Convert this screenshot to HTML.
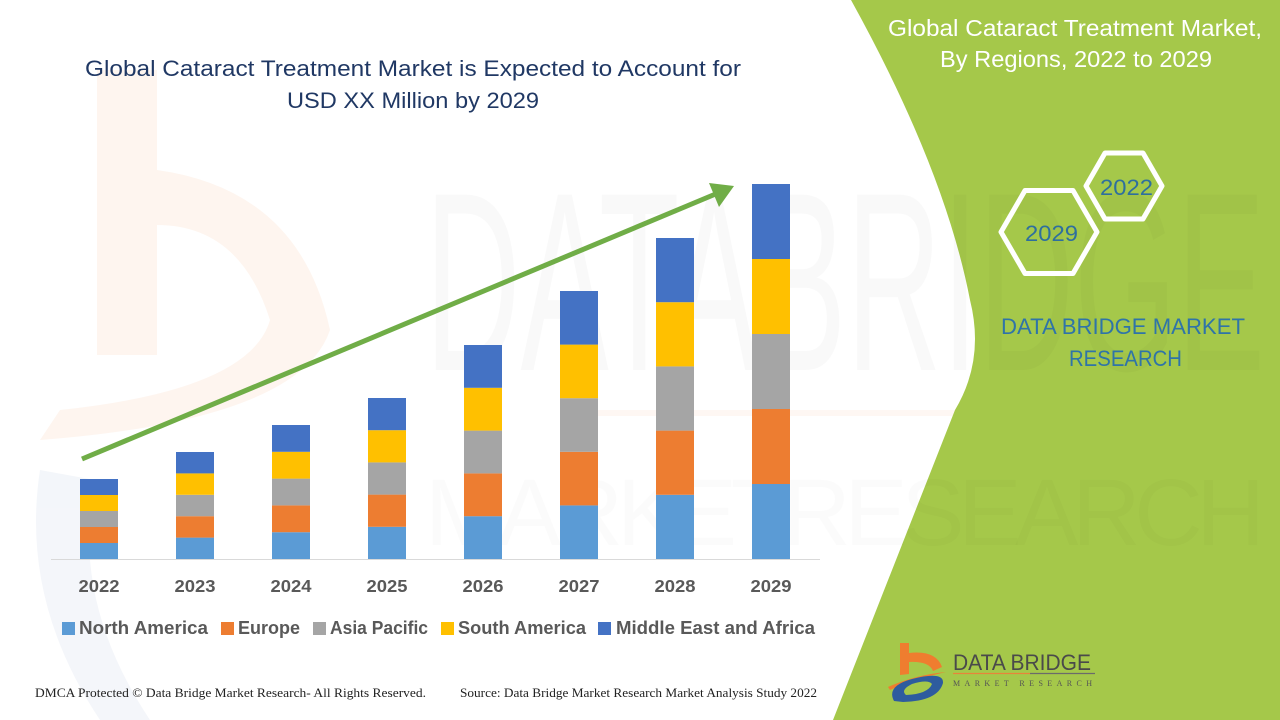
<!DOCTYPE html>
<html><head><meta charset="utf-8"><style>
html,body{margin:0;padding:0;background:#fff;}
svg{display:block;}
</style></head><body>
<svg width="1280" height="720" viewBox="0 0 1280 720" xmlns="http://www.w3.org/2000/svg">
<rect width="1280" height="720" fill="#ffffff"/>
<!-- faint left logo watermark -->
<g opacity="0.45">
<rect x="97" y="70" width="60" height="285" fill="#fde9dc"/>
<path d="M157,170 Q300,190 330,330 Q300,420 40,440 L60,410 Q250,390 270,320 Q240,225 157,225 Z" fill="#fde9dc"/>
<path d="M40,470 Q20,600 100,720 L150,720 Q70,600 95,480 Z" fill="#e6ecf4"/>
<path d="M580,410 L1000,410 L1000,416 L580,416 Z" fill="#fdeee4"/>
</g>
<!-- green panel -->
<path d="M851,0 Q945,170 970,300 Q985,360 955,410 L833,720 L1280,720 L1280,0 Z" fill="#a5c84a"/>
<!-- watermark text -->
<text x="425" y="370" font-family="Liberation Sans, sans-serif" font-size="255" textLength="840" lengthAdjust="spacingAndGlyphs" fill="#000" fill-opacity="0.022">DATABRIDGE</text>
<text x="425" y="545" font-family="Liberation Sans, sans-serif" font-size="95" textLength="840" lengthAdjust="spacing" fill="#000" fill-opacity="0.015">MARKETRESEARCH</text>

<!-- title -->
<text x="85" y="76" font-family="Liberation Sans, sans-serif" font-size="22" fill="#203864" textLength="656" lengthAdjust="spacingAndGlyphs">Global Cataract Treatment Market is Expected to Account for</text>
<text x="287" y="108" font-family="Liberation Sans, sans-serif" font-size="22" fill="#203864" textLength="252" lengthAdjust="spacingAndGlyphs">USD XX Million by 2029</text>

<!-- axis -->
<line x1="51" y1="559.5" x2="820" y2="559.5" stroke="#d9d9d9" stroke-width="1"/>

<!-- bars -->
<g>
<rect x="80" y="543" width="38" height="16" fill="#5b9bd5"/>
<rect x="80" y="527" width="38" height="16" fill="#ed7d31"/>
<rect x="80" y="511" width="38" height="16" fill="#a5a5a5"/>
<rect x="80" y="495" width="38" height="16" fill="#ffc000"/>
<rect x="80" y="479" width="38" height="16" fill="#4472c4"/>
<rect x="176" y="537.6" width="38" height="21.4" fill="#5b9bd5"/>
<rect x="176" y="516.2" width="38" height="21.4" fill="#ed7d31"/>
<rect x="176" y="494.8" width="38" height="21.4" fill="#a5a5a5"/>
<rect x="176" y="473.4" width="38" height="21.4" fill="#ffc000"/>
<rect x="176" y="452" width="38" height="21.4" fill="#4472c4"/>
<rect x="272" y="532.2" width="38" height="26.8" fill="#5b9bd5"/>
<rect x="272" y="505.4" width="38" height="26.8" fill="#ed7d31"/>
<rect x="272" y="478.6" width="38" height="26.8" fill="#a5a5a5"/>
<rect x="272" y="451.8" width="38" height="26.8" fill="#ffc000"/>
<rect x="272" y="425" width="38" height="26.8" fill="#4472c4"/>
<rect x="368" y="526.8" width="38" height="32.2" fill="#5b9bd5"/>
<rect x="368" y="494.6" width="38" height="32.2" fill="#ed7d31"/>
<rect x="368" y="462.4" width="38" height="32.2" fill="#a5a5a5"/>
<rect x="368" y="430.2" width="38" height="32.2" fill="#ffc000"/>
<rect x="368" y="398" width="38" height="32.2" fill="#4472c4"/>
<rect x="464" y="516.2" width="38" height="42.8" fill="#5b9bd5"/>
<rect x="464" y="473.4" width="38" height="42.8" fill="#ed7d31"/>
<rect x="464" y="430.6" width="38" height="42.8" fill="#a5a5a5"/>
<rect x="464" y="387.8" width="38" height="42.8" fill="#ffc000"/>
<rect x="464" y="345" width="38" height="42.8" fill="#4472c4"/>
<rect x="560" y="505.4" width="38" height="53.6" fill="#5b9bd5"/>
<rect x="560" y="451.8" width="38" height="53.6" fill="#ed7d31"/>
<rect x="560" y="398.2" width="38" height="53.6" fill="#a5a5a5"/>
<rect x="560" y="344.6" width="38" height="53.6" fill="#ffc000"/>
<rect x="560" y="291" width="38" height="53.6" fill="#4472c4"/>
<rect x="656" y="494.8" width="38" height="64.2" fill="#5b9bd5"/>
<rect x="656" y="430.6" width="38" height="64.2" fill="#ed7d31"/>
<rect x="656" y="366.4" width="38" height="64.2" fill="#a5a5a5"/>
<rect x="656" y="302.2" width="38" height="64.2" fill="#ffc000"/>
<rect x="656" y="238" width="38" height="64.2" fill="#4472c4"/>
<rect x="752" y="484" width="38" height="75" fill="#5b9bd5"/>
<rect x="752" y="409" width="38" height="75" fill="#ed7d31"/>
<rect x="752" y="334" width="38" height="75" fill="#a5a5a5"/>
<rect x="752" y="259" width="38" height="75" fill="#ffc000"/>
<rect x="752" y="184" width="38" height="75" fill="#4472c4"/>
</g>

<!-- arrow -->
<line x1="82" y1="459" x2="718" y2="193" stroke="#70ad47" stroke-width="5"/>
<polygon points="734,186 709,183 719,207" fill="#70ad47"/>

<!-- year labels -->
<g font-family="Liberation Sans, sans-serif" font-size="17.5" font-weight="bold" fill="#595959" text-anchor="middle">
<text x="99" y="592" textLength="41" lengthAdjust="spacingAndGlyphs">2022</text>
<text x="195" y="592" textLength="41" lengthAdjust="spacingAndGlyphs">2023</text>
<text x="291" y="592" textLength="41" lengthAdjust="spacingAndGlyphs">2024</text>
<text x="387" y="592" textLength="41" lengthAdjust="spacingAndGlyphs">2025</text>
<text x="483" y="592" textLength="41" lengthAdjust="spacingAndGlyphs">2026</text>
<text x="579" y="592" textLength="41" lengthAdjust="spacingAndGlyphs">2027</text>
<text x="675" y="592" textLength="41" lengthAdjust="spacingAndGlyphs">2028</text>
<text x="771" y="592" textLength="41" lengthAdjust="spacingAndGlyphs">2029</text>
</g>

<!-- legend -->
<g font-family="Liberation Sans, sans-serif" font-size="18" font-weight="bold" fill="#595959">
<rect x="62" y="622" width="13" height="13" fill="#5b9bd5"/>
<text x="79" y="634" textLength="129" lengthAdjust="spacingAndGlyphs">North America</text>
<rect x="221" y="622" width="13" height="13" fill="#ed7d31"/>
<text x="238" y="634" textLength="62" lengthAdjust="spacingAndGlyphs">Europe</text>
<rect x="313" y="622" width="13" height="13" fill="#a5a5a5"/>
<text x="330" y="634" textLength="98" lengthAdjust="spacingAndGlyphs">Asia Pacific</text>
<rect x="441" y="622" width="13" height="13" fill="#ffc000"/>
<text x="458" y="634" textLength="128" lengthAdjust="spacingAndGlyphs">South America</text>
<rect x="598" y="622" width="13" height="13" fill="#4472c4"/>
<text x="616" y="634" textLength="199" lengthAdjust="spacingAndGlyphs">Middle East and Africa</text>
</g>

<!-- footer -->
<g font-family="Liberation Serif, serif" font-size="12.5" fill="#222">
<text x="35" y="697" textLength="391" lengthAdjust="spacingAndGlyphs">DMCA Protected © Data Bridge Market Research- All Rights Reserved.</text>
<text x="460" y="697" textLength="357" lengthAdjust="spacingAndGlyphs">Source: Data Bridge Market Research Market Analysis Study 2022</text>
</g>

<!-- right panel title -->
<g font-family="Liberation Sans, sans-serif" font-size="23" fill="#ffffff">
<text x="888" y="36" textLength="374" lengthAdjust="spacingAndGlyphs">Global Cataract Treatment Market,</text>
<text x="940" y="67" textLength="272" lengthAdjust="spacingAndGlyphs">By Regions, 2022 to 2029</text>
</g>

<!-- hexagons -->
<polygon points="1086,186 1105,153 1143,153 1162,186 1143,219 1105,219" fill="none" stroke="#ffffff" stroke-width="5" stroke-linejoin="round"/>
<polygon points="1001,232 1025,190.5 1073,190.5 1097,232 1073,273.5 1025,273.5" fill="none" stroke="#ffffff" stroke-width="5" stroke-linejoin="round"/>
<g font-family="Liberation Sans, sans-serif" font-size="22" fill="#2e6f9e">
<text x="1100" y="195" textLength="53" lengthAdjust="spacingAndGlyphs">2022</text>
<text x="1025" y="241" textLength="53" lengthAdjust="spacingAndGlyphs">2029</text>
</g>
<g font-family="Liberation Sans, sans-serif" font-size="22" fill="#2f74a8">
<text x="1001" y="334" textLength="244" lengthAdjust="spacingAndGlyphs">DATA BRIDGE MARKET</text>
<text x="1069" y="366" textLength="113" lengthAdjust="spacingAndGlyphs">RESEARCH</text>
</g>

<!-- logo -->
<g>
<path d="M900,643 L909,643 L909,653 Q936,650 942,667 L933,671 Q929,661 909,662 L909,674 L900,675 Z" fill="#ef7d2f"/>
<path d="M888,687 Q915,675 946,672 Q915,679 890,690 Z" fill="#ef7d2f"/>
<path d="M894,701 Q886,686 912,679 Q944,671 943,683 Q938,701 903,702 Z M906,695 Q928,694 932,684 Q928,679 912,684 Q900,690 906,695 Z" fill="#2e5c9e" fill-rule="evenodd"/>
<text x="953" y="670" font-family="Liberation Sans, sans-serif" font-size="22" fill="#4a4a4a" textLength="138" lengthAdjust="spacingAndGlyphs">DATA BRIDGE</text>
<line x1="953" y1="673.5" x2="1030" y2="673.5" stroke="#e8843a" stroke-width="1.2"/>
<line x1="1030" y1="673.5" x2="1095" y2="673.5" stroke="#6b6b6b" stroke-width="1.2"/>
<text x="953" y="686" font-family="Liberation Serif, serif" font-size="8" fill="#555" textLength="139" lengthAdjust="spacing">MARKET  RESEARCH</text>
</g>
</svg>
</body></html>
